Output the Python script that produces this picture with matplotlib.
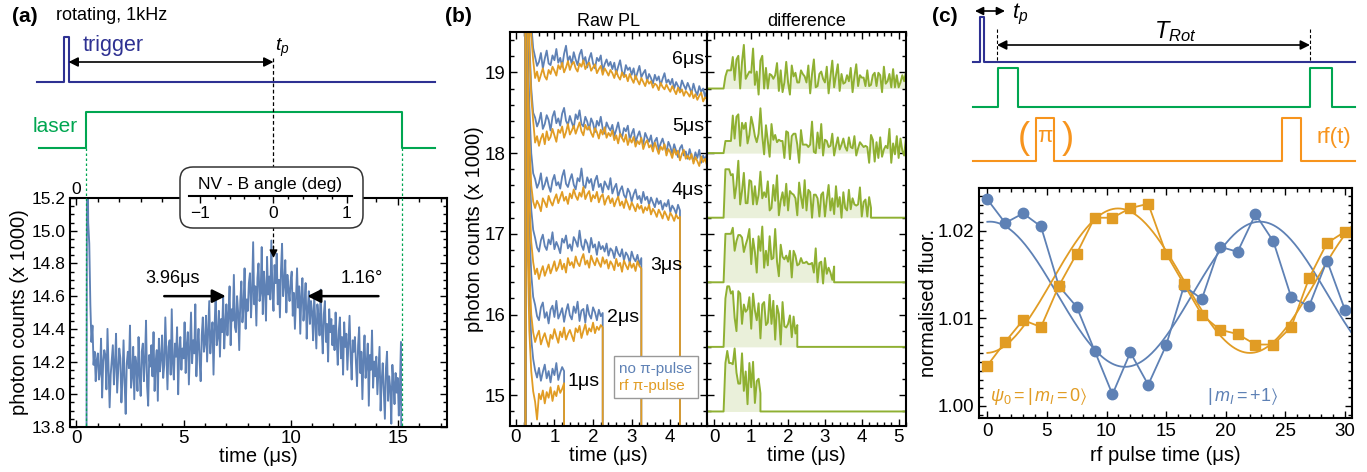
import numpy as np
import matplotlib.pyplot as plt
from matplotlib.patches import FancyBboxPatch
from matplotlib.lines import Line2D
from matplotlib.ticker import MultipleLocator, FormatStrFormatter

plt.rcParams['font.family'] = ['Liberation Sans', 'DejaVu Sans']
plt.rcParams['mathtext.fontset'] = 'custom'
plt.rcParams['mathtext.rm'] = 'Liberation Sans'
plt.rcParams['mathtext.it'] = 'Liberation Sans:italic'
plt.rcParams['mathtext.fallback'] = 'stix'

# colours
c_blue = '#5e81b5'
c_orange = '#e19c24'
c_green = '#8fb032'
navy = '#2e3192'
laser = '#00a651'
rf = '#f7941d'

# ---------------- data: panel (a), PL vs time, step 0.05 us from 0.45 to 15.2
pl_a = [12.0, 16.0, 15.05, 14.92, 14.55, 14.32, 14.42, 14.18, 14.26, 14.08, 14.21,
        14.25, 14.09, 14.13, 14.34, 13.98, 14.20, 14.27, 14.24, 14.03, 14.40, 14.15, 13.92, 14.12, 14.21, 14.30, 14.06, 14.19, 14.37, 14.01, 14.14,
        14.28, 14.22, 13.95, 14.10, 14.33, 14.07, 13.88, 14.19, 14.26, 14.16, 14.42, 14.04, 14.11, 14.29, 13.97, 14.23, 14.18, 14.02, 14.35, 14.12,
        13.99, 14.26, 14.31, 14.08, 14.21, 14.45, 14.05, 13.93, 14.24, 14.17, 14.30, 14.11, 14.38, 14.02, 14.20, 14.27, 13.96, 14.34, 14.14, 14.22,
        14.36, 14.10, 14.18, 14.47, 14.25, 14.03, 14.29, 14.33, 14.12, 14.52, 14.20, 14.09, 14.31, 14.23, 14.41, 14.00, 14.27, 14.35, 14.15, 14.28,
        14.22, 14.44, 14.13, 14.30, 14.38, 14.06, 14.27, 14.50, 14.19, 14.33, 14.25, 14.55, 14.11, 14.29, 14.40, 14.21, 14.08, 14.36, 14.47, 14.26,
        14.31, 14.48, 14.20, 14.39, 14.57, 14.25, 14.36, 14.44, 14.12, 14.41, 14.62, 14.30, 14.35, 14.51, 14.23, 14.46, 14.38, 14.60, 14.28, 14.43,
        14.55, 14.36, 14.49, 14.66, 14.30, 14.52, 14.45, 14.73, 14.41, 14.38, 14.60, 14.50, 14.27, 14.57, 14.69, 14.44, 14.53, 14.77, 14.40, 14.58,
        14.51, 14.68, 14.74, 14.47, 14.63, 14.93, 14.55, 14.66, 14.42, 14.71, 14.80, 14.57, 14.62, 14.90, 14.49, 14.75, 14.65, 14.45, 14.84, 14.61,
        14.72, 14.58, 14.94, 14.63, 14.51, 14.79, 14.68, 14.86, 14.55, 14.70, 14.47, 14.76, 14.92, 14.60, 14.67, 14.82, 14.50, 14.73, 14.64, 14.57,
        14.69, 14.75, 14.48, 14.62, 14.40, 14.58, 14.77, 14.53, 14.66, 14.37, 14.60, 14.71, 14.45, 14.55, 14.68, 14.34, 14.52, 14.63, 14.43, 14.57,
        14.50, 14.33, 14.61, 14.44, 14.28, 14.55, 14.47, 14.36, 14.64, 14.41, 14.25, 14.49, 14.57, 14.32, 14.43, 14.20, 14.52, 14.38, 14.46, 14.30,
        14.42, 14.27, 14.50, 14.33, 14.18, 14.39, 14.47, 14.22, 14.35, 14.12, 14.44, 14.29, 14.37, 14.15, 14.31, 14.48, 14.24, 14.09, 14.33, 14.26,
        14.35, 14.19, 14.05, 14.30, 14.41, 14.13, 14.26, 13.97, 14.22, 14.36, 14.10, 14.18, 14.31, 13.93, 14.24, 14.15, 14.39, 14.04, 14.20, 14.11,
        14.23, 14.00, 14.14, 14.29, 13.90, 14.08, 14.19, 14.02, 13.85, 14.16, 14.26, 13.96, 14.11, 14.04, 13.82, 14.18, 14.07, 13.94, 14.13, 14.01,
        14.10, 13.87, 14.04, 14.32, 12.0]
t_a_start, t_a_end = 0.45, 15.2
t_laser_on, t_laser_off = 0.47, 15.2
t_p = 9.2
fwhm_time = 3.96   # us
fwhm_angle = 1.16  # deg

# ---------------- data: panel (b), raw PL traces, step 0.05 us from 0.25 us
pulse_us = [1, 2, 3, 4, 5, 6]
blue_1 = [21.0, 17.4, 16.3, 15.7, 15.45, 15.31, 15.22, 15.34, 15.18, 15.29, 15.38, 15.21, 15.30, 15.16, 15.33,
          15.25, 15.40, 15.19, 15.28, 15.35, 15.30]
orange_1 = [21.0, 17.0, 15.8, 15.3, 15.05, 14.92, 14.70, 15.02, 14.95, 15.06, 14.90, 15.04, 14.97, 15.10, 14.93,
            15.05, 14.99, 15.12, 15.03, 15.08, 15.15]
blue_2 = [21.0, 18.2, 17.1, 16.5, 16.22,
          16.12, 15.98, 15.93, 16.09, 16.15, 15.96, 16.03, 15.89, 16.06, 16.11, 15.97, 16.17, 15.95, 16.01, 16.08,
          15.91, 16.04, 16.13, 15.99, 15.94, 16.10, 16.02, 16.16, 15.92, 16.05, 16.07, 15.90, 16.12, 16.00, 15.95,
          16.09, 16.03, 15.93, 16.06, 15.98, 16.02]
orange_2 = [21.0, 17.8, 16.6, 16.0, 15.78,
            15.66, 15.74, 15.80, 15.63, 15.71, 15.77, 15.68, 15.60, 15.75, 15.70, 15.82, 15.73, 15.65, 15.79, 15.72,
            15.84, 15.69, 15.76, 15.81, 15.74, 15.67, 15.83, 15.78, 15.86, 15.71, 15.80, 15.88, 15.75, 15.83, 15.79,
            15.90, 15.77, 15.85, 15.81, 15.87, 15.84]
blue_3 = [21.0, 19.0, 17.9, 17.3, 17.05,
          16.95, 16.83, 16.78, 16.92, 16.99, 16.85, 16.80, 16.93, 16.87, 17.02, 16.81, 16.90, 16.84, 16.76, 16.94,
          16.89, 16.98, 16.82, 16.87, 16.79, 16.96, 16.91, 16.84, 17.04, 16.86, 16.80, 16.93, 16.88, 16.77, 16.95,
          16.83, 16.87, 16.74, 16.90, 16.81, 16.85, 16.78, 16.88, 16.73, 16.82, 16.79, 16.70, 16.84, 16.76, 16.72,
          16.81, 16.67, 16.77, 16.73, 16.64, 16.78, 16.70, 16.66, 16.74, 16.62, 16.70]
orange_3 = [21.0, 18.6, 17.5, 16.9, 16.65,
            16.50, 16.57, 16.44, 16.53, 16.60, 16.48, 16.55, 16.62, 16.51, 16.58, 16.66, 16.54, 16.59, 16.68, 16.56,
            16.63, 16.52, 16.70, 16.61, 16.65, 16.58, 16.72, 16.64, 16.60, 16.69, 16.75, 16.62, 16.67, 16.58, 16.73,
            16.66, 16.61, 16.70, 16.64, 16.59, 16.71, 16.63, 16.68, 16.57, 16.66, 16.62, 16.55, 16.69, 16.60, 16.64,
            16.53, 16.67, 16.61, 16.56, 16.65, 16.58, 16.63, 16.54, 16.66, 16.60, 16.57]
blue_4 = [21.0, 19.6, 18.6, 18.0, 17.75,
          17.68, 17.57, 17.63, 17.75, 17.55, 17.61, 17.70, 17.59, 17.52, 17.66,
          17.73, 17.60, 17.64, 17.56, 17.71, 17.79, 17.62, 17.58, 17.67, 17.74,
          17.61, 17.55, 17.69, 17.65, 17.81, 17.60, 17.57, 17.70, 17.63, 17.68,
          17.54, 17.66, 17.72, 17.58, 17.62, 17.51, 17.65, 17.60, 17.55, 17.69,
          17.50, 17.57, 17.62, 17.46, 17.54, 17.59, 17.48, 17.44, 17.56, 17.51,
          17.40, 17.49, 17.55, 17.43, 17.47, 17.38, 17.52, 17.42, 17.46, 17.36,
          17.45, 17.39, 17.33, 17.44, 17.37, 17.41, 17.30, 17.38, 17.34, 17.42,
          17.27, 17.35, 17.31, 17.25, 17.36, 17.29]
orange_4 = [21.0, 19.2, 18.2, 17.6, 17.40,
            17.32, 17.41, 17.36, 17.28, 17.44, 17.39, 17.33, 17.47, 17.40, 17.35,
            17.43, 17.49, 17.38, 17.45, 17.52, 17.41, 17.46, 17.37, 17.50, 17.44,
            17.55, 17.47, 17.42, 17.51, 17.46, 17.58, 17.43, 17.49, 17.53, 17.40,
            17.48, 17.44, 17.52, 17.39, 17.46, 17.49, 17.36, 17.43, 17.47, 17.38,
            17.44, 17.34, 17.41, 17.46, 17.35, 17.40, 17.32, 17.43, 17.37, 17.30,
            17.39, 17.34, 17.28, 17.37, 17.31, 17.35, 17.26, 17.33, 17.29, 17.36,
            17.24, 17.31, 17.27, 17.21, 17.30, 17.25, 17.19, 17.28, 17.23, 17.17,
            17.26, 17.22, 17.16, 17.24, 17.19, 17.21]
blue_5 = [21.0, 20.4, 19.4, 18.8, 18.5,
          18.44, 18.33, 18.39, 18.50, 18.30, 18.36, 18.47, 18.41, 18.28, 18.45,
          18.52, 18.37, 18.43, 18.34, 18.49, 18.56, 18.40, 18.35, 18.46, 18.38,
          18.31, 18.48, 18.42, 18.53, 18.36, 18.33, 18.45, 18.39, 18.29, 18.43,
          18.37, 18.26, 18.40, 18.34, 18.45, 18.30, 18.24, 18.38, 18.32, 18.28,
          18.35, 18.21, 18.29, 18.38, 18.25, 18.19, 18.31, 18.27, 18.34, 18.16,
          18.24, 18.30, 18.13, 18.21, 18.27, 18.17, 18.11, 18.25, 18.19, 18.14,
          18.22, 18.07, 18.15, 18.19, 18.04, 18.12, 18.18, 18.09, 18.01, 18.14,
          18.08, 17.99, 18.11, 18.03, 17.95, 18.06, 18.10, 17.97, 18.02, 17.93,
          18.05, 17.96, 17.90, 18.01, 17.94, 18.04, 17.88, 17.97, 17.92, 17.99,
          17.87, 17.95, 17.90, 17.84, 17.93]
orange_5 = [21.0, 20.3, 19.3, 18.7, 18.4,
            18.13, 18.21, 18.09, 18.18, 18.24, 18.11, 18.27, 18.16, 18.20, 18.30,
            18.22, 18.14, 18.29, 18.25, 18.33, 18.19, 18.26, 18.36, 18.23, 18.28,
            18.34, 18.24, 18.31, 18.38, 18.27, 18.22, 18.35, 18.29, 18.33, 18.25,
            18.20, 18.31, 18.26, 18.18, 18.29, 18.23, 18.32, 18.19, 18.25, 18.21,
            18.28, 18.16, 18.22, 18.12, 18.24, 18.19, 18.14, 18.23, 18.10, 18.18,
            18.13, 18.20, 18.08, 18.15, 18.11, 18.19, 18.05, 18.12, 18.16, 18.07,
            18.10, 18.02, 18.13, 18.06, 17.99, 18.08, 18.04, 18.11, 17.97, 18.05,
            18.01, 17.94, 18.05, 17.98, 18.03, 17.91, 17.99, 18.04, 17.93, 17.97,
            17.92, 17.99, 17.87, 17.95, 17.90, 17.84, 17.96, 17.89, 17.93, 17.85,
            17.91, 17.83, 17.88, 17.86, 17.80]
blue_6 = [21.0, 21.0, 20.2, 19.6, 19.3,
          19.19, 19.08, 19.13, 19.24, 19.05, 19.17, 19.27, 19.11, 19.09, 19.21,
          19.15, 19.29, 19.12, 19.18, 19.07, 19.23, 19.33, 19.14, 19.20, 19.10,
          19.25, 19.16, 19.09, 19.22, 19.28, 19.13, 19.19, 19.06, 19.17, 19.24,
          19.11, 19.05, 19.18, 19.14, 19.21, 19.02, 19.10, 19.16, 19.08, 19.13,
          19.04, 19.12, 18.98, 19.07, 19.15, 19.01, 18.96, 19.09, 19.03, 19.06,
          18.97, 19.05, 18.92, 19.00, 19.08, 18.94, 18.99, 19.03, 18.89, 18.98,
          18.93, 18.86, 18.97, 18.90, 18.95, 18.84, 18.92, 18.99, 18.87, 18.91,
          18.85, 18.92, 18.80, 18.88, 18.83, 18.78, 18.90, 18.84, 18.79, 18.87,
          18.81, 18.74, 18.86, 18.77, 18.72, 18.83, 18.76, 18.80, 18.70, 18.78,
          18.73, 18.68, 18.79, 18.71, 18.75]
orange_6 = [21.0, 20.9, 20.05, 19.45, 19.15,
            18.93, 19.01, 18.89, 18.97, 19.05, 18.95, 18.91, 19.03, 18.98, 19.07,
            19.02, 18.96, 19.09, 19.04, 19.12, 19.00, 19.06, 19.14, 19.03, 19.10,
            19.13, 19.05, 19.01, 19.11, 19.07, 19.15, 19.04, 19.09, 19.12, 19.02,
            19.06, 19.10, 18.99, 19.04, 19.08, 18.97, 19.05, 19.01, 18.96, 19.03,
            18.99, 18.93, 19.02, 18.95, 18.91, 19.00, 18.94, 18.97, 18.89, 18.98,
            18.92, 18.87, 18.96, 18.90, 18.85, 18.93, 18.88, 18.83, 18.91, 18.86,
            18.89, 18.81, 18.86, 18.84, 18.78, 18.87, 18.82, 18.79, 18.85, 18.80,
            18.76, 18.83, 18.78, 18.73, 18.81, 18.75, 18.79, 18.71, 18.77, 18.74,
            18.70, 18.77, 18.68, 18.73, 18.66, 18.71, 18.75, 18.64, 18.69, 18.67,
            18.72, 18.63, 18.68, 18.65, 18.61]
blue_traces = [blue_1, blue_2, blue_3, blue_4, blue_5, blue_6]
orange_traces = [orange_1, orange_2, orange_3, orange_4, orange_5, orange_6]
diff_base = [14.8, 15.6, 16.4, 17.2, 18.0, 18.8]
diff_scale = 1.5
t_b_start, t_b_max = 0.25, 5.2

# ---------------- data: panel (c), rf Rabi
t_rf = [0, 1.5, 3, 4.5, 6, 7.5, 9, 10.5, 12, 13.5, 15, 16.5, 18, 19.5, 21, 22.5, 24, 25.5, 27, 28.5, 30]
fl_m1 = [1.0236, 1.0209, 1.0220, 1.0205, 1.0137, 1.0113, 1.0063, 1.0013, 1.0061, 1.0024, 1.0069,
         1.0137, 1.0122, 1.0182, 1.0176, 1.0219, 1.0188, 1.0124, 1.0114, 1.0166, 1.0110]
fl_m0 = [1.0046, 1.0073, 1.0098, 1.0090, 1.0137, 1.0174, 1.0215, 1.0215, 1.0226, 1.0231, 1.0174,
         1.0139, 1.0104, 1.0087, 1.0082, 1.0070, 1.0070, 1.0090, 1.0146, 1.0186, 1.0199]
# sinusoidal fits: offset, amplitude, period, time of extremum
fit_m1 = dict(c=1.01275, a=-0.0083, T=22.66, t0=11.55)
fit_m0 = dict(c=1.0143, a=0.00826, T=22.14, t0=10.97)

W, H = 1367, 472
fig = plt.figure(figsize=(W / 100, H / 100), dpi=100)


def rect(l, t, r, b):
    return [l / W, 1 - b / H, (r - l) / W, (b - t) / H]


def frame(ax, lw=1.5):
    for s in ax.spines.values():
        s.set_linewidth(lw)
    ax.tick_params(which='both', direction='in', top=True, right=True, width=1, labelsize=13.5)
    ax.tick_params(which='major', length=5)
    ax.tick_params(which='minor', length=3)


# ================= panel (a)
ax_a = fig.add_axes(rect(70, 198, 447, 427))
t_a = np.linspace(t_a_start, t_a_end, len(pl_a))
ax_a.plot(t_a, pl_a, color=c_blue, lw=1.35)
ax_a.set_xlim(-0.3, 17.3)
ax_a.set_ylim(13.8, 15.2)
frame(ax_a)
ax_a.tick_params(axis='y', labelsize=12.5)
ax_a.tick_params(axis='x', pad=2)
ax_a.xaxis.set_major_locator(MultipleLocator(5))
ax_a.xaxis.set_minor_locator(MultipleLocator(1))
ax_a.yaxis.set_major_locator(MultipleLocator(0.2))
ax_a.yaxis.set_minor_locator(MultipleLocator(0.05))
ax_a.yaxis.set_major_formatter(FormatStrFormatter('%.1f'))
ax_a.set_xlabel('time (μs)', fontsize=14.5)
ax_a.set_ylabel('photon counts (x 1000)', fontsize=14.5)
ax_a.xaxis.set_label_coords(0.5, -0.13)
ax_a.xaxis.label.set_va('center')
ax_a.yaxis.set_label_coords(-0.133, 0.5)
ax_a.yaxis.label.set_va('center')

y_arr = 14.6
ax_a.annotate('', xy=(t_p - fwhm_time / 2 - 0.25, y_arr), xytext=(4.1, y_arr),
              arrowprops=dict(arrowstyle='-|>', color='k', lw=1.8, mutation_scale=20, shrinkA=0, shrinkB=0))
ax_a.annotate('', xy=(t_p + fwhm_time / 2 - 0.4, y_arr), xytext=(14.1, y_arr),
              arrowprops=dict(arrowstyle='-|>', color='k', lw=1.8, mutation_scale=20, shrinkA=0, shrinkB=0))
ax_a.text(4.5, 14.71, f'{fwhm_time:.2f}μs', ha='center', va='center', fontsize=13)
ax_a.text(13.3, 14.71, f'{fwhm_angle:.2f}°', ha='center', va='center', fontsize=13)

# timing diagram above (a), x in us, y in pixels from top
sa = fig.add_axes(rect(70, 0, 447, 198))
sa.set_xlim(ax_a.get_xlim())
sa.set_ylim(198, 0)
sa.axis('off')
sa.set_zorder(3)
sa.plot([-1.86, -0.56, -0.56, -0.37, -0.37, 16.72], [82, 82, 37, 37, 82, 82],
        color=navy, lw=1.5, clip_on=False)
sa.plot([-1.77, t_laser_on, t_laser_on, t_laser_off, t_laser_off, 16.72], [148, 148, 112, 112, 148, 148],
        color=laser, lw=1.5, clip_on=False)
sa.annotate('', xy=(t_p, 62), xytext=(-0.37, 62),
            arrowprops=dict(arrowstyle='<|-|>', color='k', lw=1.2, mutation_scale=14, shrinkA=0, shrinkB=0),
            annotation_clip=False)
for tl in (t_laser_on, t_laser_off):
    sa.plot([tl, tl], [148, 427], color=laser, lw=0.9, dashes=(2, 2), clip_on=False)
sa.plot([t_p, t_p], [58, 248], color='k', lw=0.9, dashes=(3, 2), clip_on=False)
sa.annotate('', xy=(t_p, 258), xytext=(t_p, 246),
            arrowprops=dict(arrowstyle='-|>', color='k', lw=0.9, mutation_scale=12, shrinkA=0, shrinkB=0),
            annotation_clip=False)
sa.text(0.28, 45, 'trigger', color=navy, fontsize=15.5, va='center')
sa.text(-0.98, 127, 'laser', color=laser, fontsize=15, ha='center', va='center')
sa.text(t_p + 0.05, 48, r'$t_p$', fontsize=14, va='center')
sa.text(0, 189, '0', fontsize=12.5, ha='center', va='center')
fig.text(12 / W, 1 - 16 / H, '(a)', fontsize=15, weight='bold', va='center')
fig.text(56 / W, 1 - 16 / H, 'rotating, 1kHz', fontsize=13, va='center')

# NV - B angle axis in rounded box
x_lo = -0.3 + (189 - 70) / 377 * 17.6
x_hi = -0.3 + (352 - 70) / 377 * 17.6
deg_per_us = fwhm_angle / fwhm_time
ang = fig.add_axes(rect(189, 195, 352, 196))
ang.set_zorder(5)
ang.patch.set_visible(False)
ang.set_xlim((x_lo - t_p) * deg_per_us, (x_hi - t_p) * deg_per_us)
for s in ('top', 'left', 'right'):
    ang.spines[s].set_visible(False)
ang.spines['bottom'].set_linewidth(1.5)
ang.set_yticks([])
ang.xaxis.set_major_locator(MultipleLocator(1))
ang.xaxis.set_minor_locator(MultipleLocator(0.2))
ang.tick_params(which='both', direction='out', labelsize=12.5, width=1, pad=2)
ang.tick_params(which='major', length=5)
ang.tick_params(which='minor', length=2.5)
ang.add_patch(FancyBboxPatch((1.80, 2.44), 1.83, 0.61, boxstyle='round,pad=0,rounding_size=0.13',
                             transform=fig.dpi_scale_trans, fc='white', ec='#333333', lw=1.1,
                             clip_on=False, zorder=0.5))
ang.text(270 / W, 1 - 184 / H, 'NV - B angle (deg)', transform=fig.transFigure,
         ha='center', va='center', fontsize=12.5)

# ================= panel (b)
ax_r = fig.add_axes(rect(510, 32, 707, 426))
ax_d = fig.add_axes(rect(707, 32, 906, 426))
for n, b, o, base in zip(pulse_us, blue_traces, orange_traces, diff_base):
    t_end = min(t_b_start + n, t_b_max)
    t = np.linspace(t_b_start, t_end, len(b))
    tt = np.concatenate([[t_b_start], t, [t_end]])
    ax_r.plot(tt, np.concatenate([[12.0], b, [12.0]]), color=c_blue, lw=1.3)
    ax_r.plot(tt, np.concatenate([[12.0], o, [12.0]]), color=c_orange, lw=1.3)
    d = (np.array(b) - np.array(o)) * diff_scale
    td = np.concatenate([[-0.3], t, [t_end, 5.4]])
    dd = base + np.concatenate([[0.0], d, [0.0, 0.0]])
    ax_d.fill_between(td, base, dd, color=c_green, alpha=0.18, lw=0)
    ax_d.plot(td, dd, color=c_green, lw=1.4)

for ax in (ax_r, ax_d):
    ax.set_ylim(14.62, 19.5)
    frame(ax)
    ax.tick_params(axis='x', pad=2)
    ax.xaxis.set_major_locator(MultipleLocator(1))
    ax.xaxis.set_minor_locator(MultipleLocator(0.2))
    ax.yaxis.set_major_locator(MultipleLocator(1))
    ax.yaxis.set_minor_locator(MultipleLocator(0.2))
    ax.set_xlabel('time (μs)', fontsize=14.5)
    ax.xaxis.set_label_coords(0.5, -0.076)
    ax.xaxis.label.set_va('center')
ax_r.set_xlim(-0.15, 4.95)
ax_d.set_xlim(-0.2, 5.2)
ax_d.tick_params(axis='y', labelleft=False)
ax_r.set_ylabel('photon counts (x 1000)', fontsize=14.5)
ax_r.yaxis.set_label_coords(-0.178, 0.5)
ax_r.yaxis.label.set_va('center')
ax_r.set_title('Raw PL', fontsize=13, pad=4)
ax_d.set_title('difference', fontsize=13, pad=4)

lab_pos = [(1.33, 15.17, 'left'), (2.37, 15.96, 'left'), (3.48, 16.61, 'left'),
           (4.87, 17.54, 'right'), (4.87, 18.33, 'right'), (4.87, 19.16, 'right')]
for n, (x, y, ha) in zip(pulse_us, lab_pos):
    ax_r.text(x, y, f'{n}μs', ha=ha, va='center', fontsize=14,
              bbox=dict(fc='white', ec='none', pad=0.5) if ha == 'right' else None)

hh = [Line2D([], [], color='none'), Line2D([], [], color='none')]
leg = ax_r.legend(hh, ['no π-pulse', 'rf π-pulse'], loc='lower right', bbox_to_anchor=(0.954, 0.071),
                  handlelength=0, handletextpad=0, fontsize=11, frameon=True, fancybox=False,
                  edgecolor='#999999', framealpha=1, borderpad=0.35, labelspacing=0.2, borderaxespad=0)
leg.get_frame().set_linewidth(1.0)
for txt, c in zip(leg.get_texts(), [c_blue, c_orange]):
    txt.set_color(c)
fig.text(445 / W, 1 - 16 / H, '(b)', fontsize=15, weight='bold', va='center')

# ================= panel (c)
ax_c = fig.add_axes(rect(979, 188, 1352, 418))
tf = np.linspace(0, 30.6, 300)
for p, c in ((fit_m1, c_blue), (fit_m0, c_orange)):
    ax_c.plot(tf, p['c'] + p['a'] * np.cos(2 * np.pi * (tf - p['t0']) / p['T']), color=c, lw=1.3)
ax_c.plot(t_rf, fl_m1, '-o', color=c_blue, lw=1.3, ms=7.5)
ax_c.plot(t_rf, fl_m0, '-s', color=c_orange, lw=1.3, ms=7.5)
ax_c.set_xlim(-0.7, 30.6)
ax_c.set_ylim(0.9986, 1.0249)
frame(ax_c)
ax_c.xaxis.set_major_locator(MultipleLocator(5))
ax_c.xaxis.set_minor_locator(MultipleLocator(1))
ax_c.yaxis.set_major_locator(MultipleLocator(0.01))
ax_c.yaxis.set_minor_locator(MultipleLocator(0.001))
ax_c.yaxis.set_major_formatter(FormatStrFormatter('%.2f'))
ax_c.set_xlabel('rf pulse time (μs)', fontsize=14.5)
ax_c.xaxis.set_label_coords(0.5, -0.161)
ax_c.xaxis.label.set_va('center')
ax_c.set_ylabel('normalised fluor.', fontsize=14.5)
ax_c.yaxis.set_label_coords(-0.135, 0.5)
ax_c.yaxis.label.set_va('center')
ax_c.text(0.2, 1.0011, r'$\psi_0 = |\,m_I = 0\rangle$', color=c_orange, fontsize=13, va='center')
ax_c.text(18.4, 1.0011, r'$|\,m_I = +1\rangle$', color=c_blue, fontsize=13, va='center')

# timing diagram above (c), pixel units
sc = fig.add_axes(rect(960, 0, 1367, 180))
sc.set_xlim(960, 1367)
sc.set_ylim(180, 0)
sc.axis('off')
sc.plot([973, 980, 980, 984, 984, 1355], [62, 62, 17, 17, 62, 62], color=navy, lw=1.5)
sc.plot([973, 998, 998, 1018, 1018, 1310, 1310, 1332, 1332, 1355],
        [107, 107, 68, 68, 107, 107, 68, 68, 107, 107], color=laser, lw=1.5)
sc.plot([973, 1036, 1036, 1054, 1054, 1282, 1282, 1301, 1301, 1355],
        [161, 161, 118, 118, 161, 161, 118, 118, 161, 161], color=rf, lw=1.5)
sc.annotate('', xy=(1005, 11), xytext=(975, 11),
            arrowprops=dict(arrowstyle='<|-|>', color='k', lw=1.2, mutation_scale=12, shrinkA=0, shrinkB=0))
sc.annotate('', xy=(1310, 45), xytext=(997, 45),
            arrowprops=dict(arrowstyle='<|-|>', color='k', lw=1.2, mutation_scale=14, shrinkA=0, shrinkB=0))
for xv in (997, 1310):
    sc.plot([xv, xv], [29, 62], color='k', lw=0.8, dashes=(3, 2))
sc.text(1012, 14, r'$t_p$', fontsize=16, va='center')
sc.text(1175, 32, r'$T_{Rot}$', fontsize=17, ha='center', va='center')
sc.text(1024, 138, '(', color=rf, fontsize=26, ha='center', va='center')
sc.text(1068, 138, ')', color=rf, fontsize=26, ha='center', va='center')
sc.text(1045, 136, 'π', color=rf, fontsize=16, ha='center', va='center')
sc.text(1316, 137, 'rf(t)', color=rf, fontsize=16, va='center')
fig.text(932 / W, 1 - 16 / H, '(c)', fontsize=15, weight='bold', va='center')

fig.savefig('out.png', dpi=100)
